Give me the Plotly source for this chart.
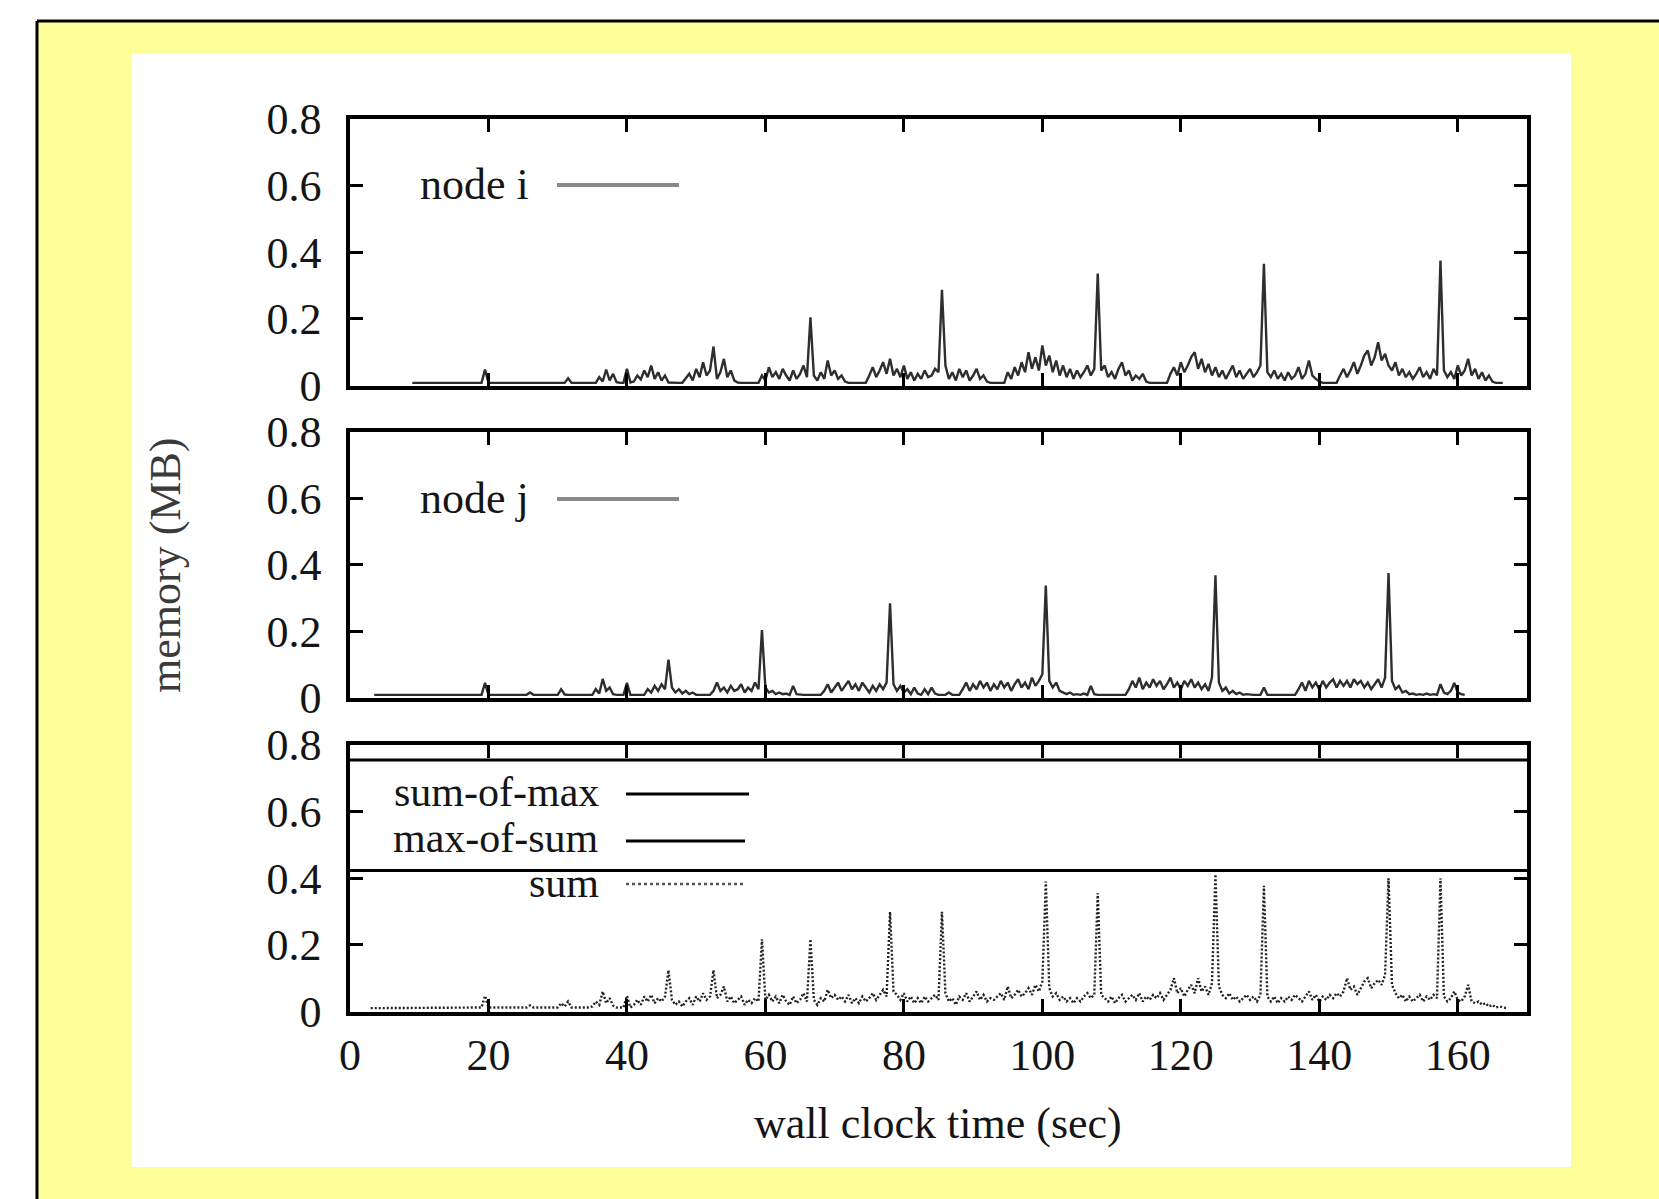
import numpy as np
import plotly.graph_objects as go

# ---------------- data ----------------
step_sec = 0.5

t_start_i = 9.0
mem_node_i = [
    0.008, 0.008, 0.008, 0.008, 0.008, 0.008, 0.008, 0.008, 0.008, 0.008,
    0.008, 0.008, 0.008, 0.008, 0.008, 0.008, 0.008, 0.008, 0.008, 0.008,
    0.008, 0.048, 0.008, 0.008, 0.008, 0.008, 0.008, 0.008, 0.008, 0.008,
    0.008, 0.008, 0.008, 0.008, 0.008, 0.008, 0.008, 0.008, 0.008, 0.008,
    0.008, 0.008, 0.008, 0.008, 0.008, 0.022, 0.008, 0.008, 0.008, 0.008,
    0.008, 0.008, 0.008, 0.008, 0.025, 0.012, 0.048, 0.015, 0.035, 0.010,
    0.008, 0.008, 0.050, 0.009, 0.012, 0.030, 0.018, 0.045, 0.025, 0.060,
    0.020, 0.040, 0.015, 0.030, 0.009, 0.008, 0.008, 0.008, 0.008, 0.020,
    0.035, 0.015, 0.050, 0.025, 0.070, 0.030, 0.045, 0.117, 0.020, 0.040,
    0.080, 0.025, 0.045, 0.015, 0.009, 0.008, 0.008, 0.008, 0.008, 0.008,
    0.008, 0.030, 0.015, 0.055, 0.025, 0.040, 0.020, 0.050, 0.030, 0.015,
    0.045, 0.020, 0.035, 0.060, 0.025, 0.205, 0.030, 0.015, 0.040, 0.020,
    0.075, 0.030, 0.045, 0.020, 0.030, 0.012, 0.008, 0.008, 0.008, 0.008,
    0.008, 0.008, 0.030, 0.055, 0.025, 0.045, 0.070, 0.035, 0.080, 0.030,
    0.050, 0.025, 0.060, 0.020, 0.040, 0.015, 0.035, 0.020, 0.045, 0.025,
    0.030, 0.050, 0.040, 0.287, 0.060, 0.020, 0.040, 0.015, 0.050, 0.025,
    0.045, 0.015, 0.030, 0.050, 0.020, 0.030, 0.012, 0.008, 0.008, 0.008,
    0.008, 0.008, 0.040, 0.020, 0.055, 0.030, 0.070, 0.040, 0.100, 0.050,
    0.085, 0.045, 0.120, 0.060, 0.090, 0.040, 0.075, 0.030, 0.060, 0.025,
    0.050, 0.020, 0.045, 0.025, 0.040, 0.060, 0.030, 0.050, 0.336, 0.045,
    0.060, 0.025, 0.040, 0.020, 0.050, 0.070, 0.030, 0.045, 0.015, 0.030,
    0.020, 0.035, 0.012, 0.008, 0.008, 0.008, 0.008, 0.008, 0.008, 0.035,
    0.055, 0.030, 0.070, 0.040, 0.060, 0.085, 0.100, 0.050, 0.080, 0.040,
    0.065, 0.030, 0.055, 0.025, 0.045, 0.020, 0.040, 0.060, 0.025, 0.045,
    0.020, 0.035, 0.050, 0.025, 0.040, 0.060, 0.365, 0.040, 0.025, 0.045,
    0.020, 0.035, 0.015, 0.040, 0.020, 0.030, 0.055, 0.020, 0.035, 0.075,
    0.030, 0.020, 0.012, 0.008, 0.008, 0.008, 0.008, 0.008, 0.030, 0.050,
    0.025, 0.045, 0.070, 0.035, 0.060, 0.090, 0.105, 0.060, 0.085, 0.130,
    0.075, 0.095, 0.060, 0.045, 0.070, 0.030, 0.050, 0.025, 0.040, 0.020,
    0.035, 0.055, 0.025, 0.040, 0.020, 0.050, 0.030, 0.375, 0.045, 0.025,
    0.040, 0.020, 0.060, 0.030, 0.045, 0.080, 0.030, 0.050, 0.020, 0.040,
    0.015, 0.030, 0.012, 0.008, 0.008, 0.008,
]

t_start_j = 3.5
mem_node_j = [
    0.008, 0.008, 0.008, 0.008, 0.008, 0.008, 0.008, 0.008, 0.008, 0.008,
    0.008, 0.008, 0.008, 0.008, 0.008, 0.008, 0.008, 0.008, 0.008, 0.008,
    0.008, 0.008, 0.008, 0.008, 0.008, 0.008, 0.008, 0.008, 0.008, 0.008,
    0.008, 0.008, 0.044, 0.008, 0.008, 0.008, 0.008, 0.008, 0.008, 0.008,
    0.008, 0.008, 0.008, 0.008, 0.008, 0.015, 0.008, 0.008, 0.008, 0.008,
    0.008, 0.008, 0.008, 0.008, 0.025, 0.009, 0.008, 0.008, 0.008, 0.008,
    0.008, 0.008, 0.008, 0.008, 0.025, 0.012, 0.056, 0.020, 0.030, 0.010,
    0.008, 0.008, 0.008, 0.044, 0.008, 0.008, 0.008, 0.008, 0.008, 0.025,
    0.015, 0.035, 0.020, 0.040, 0.025, 0.114, 0.030, 0.015, 0.025, 0.012,
    0.020, 0.010, 0.015, 0.008, 0.008, 0.008, 0.008, 0.008, 0.020, 0.045,
    0.020, 0.030, 0.015, 0.035, 0.020, 0.025, 0.040, 0.015, 0.030, 0.020,
    0.045, 0.025, 0.203, 0.030, 0.015, 0.020, 0.010, 0.015, 0.010, 0.012,
    0.008, 0.035, 0.010, 0.008, 0.008, 0.008, 0.008, 0.008, 0.008, 0.008,
    0.020, 0.040, 0.015, 0.030, 0.045, 0.020, 0.035, 0.050, 0.025, 0.040,
    0.020, 0.045, 0.030, 0.015, 0.035, 0.020, 0.040, 0.025, 0.045, 0.284,
    0.040, 0.020, 0.035, 0.015, 0.025, 0.010, 0.030, 0.012, 0.008, 0.025,
    0.010, 0.030, 0.012, 0.008, 0.008, 0.008, 0.015, 0.008, 0.008, 0.008,
    0.025, 0.045, 0.020, 0.040, 0.025, 0.050, 0.030, 0.045, 0.020, 0.040,
    0.025, 0.050, 0.030, 0.045, 0.020, 0.040, 0.055, 0.030, 0.045, 0.025,
    0.060, 0.035, 0.050, 0.070, 0.337, 0.050, 0.030, 0.045, 0.020, 0.015,
    0.010, 0.015, 0.008, 0.010, 0.008, 0.012, 0.008, 0.035, 0.010, 0.008,
    0.008, 0.008, 0.008, 0.008, 0.008, 0.008, 0.008, 0.008, 0.025, 0.050,
    0.030, 0.060, 0.025, 0.045, 0.030, 0.055, 0.035, 0.050, 0.025, 0.040,
    0.060, 0.030, 0.045, 0.025, 0.050, 0.035, 0.055, 0.030, 0.045, 0.025,
    0.040, 0.020, 0.060, 0.368, 0.045, 0.020, 0.030, 0.012, 0.020, 0.010,
    0.015, 0.008, 0.010, 0.008, 0.008, 0.008, 0.008, 0.030, 0.008, 0.008,
    0.008, 0.008, 0.008, 0.008, 0.008, 0.008, 0.008, 0.025, 0.045, 0.020,
    0.050, 0.030, 0.045, 0.025, 0.050, 0.030, 0.045, 0.055, 0.030, 0.050,
    0.035, 0.050, 0.030, 0.055, 0.040, 0.050, 0.030, 0.045, 0.025, 0.040,
    0.055, 0.030, 0.060, 0.375, 0.050, 0.025, 0.035, 0.015, 0.020, 0.010,
    0.012, 0.008, 0.010, 0.008, 0.012, 0.008, 0.010, 0.008, 0.040, 0.015,
    0.010, 0.020, 0.044, 0.015, 0.010, 0.008,
]

t_start_sum = 3.0
mem_sum = [
    0.010, 0.010, 0.010, 0.010, 0.010, 0.010, 0.010, 0.010, 0.010, 0.010,
    0.010, 0.010, 0.012, 0.012, 0.012, 0.012, 0.012, 0.012, 0.012, 0.012,
    0.012, 0.012, 0.012, 0.012, 0.012, 0.012, 0.012, 0.012, 0.012, 0.012,
    0.012, 0.012, 0.012, 0.047, 0.012, 0.012, 0.012, 0.012, 0.012, 0.012,
    0.012, 0.012, 0.012, 0.012, 0.012, 0.012, 0.018, 0.012, 0.012, 0.012,
    0.012, 0.012, 0.012, 0.012, 0.012, 0.025, 0.015, 0.030, 0.012, 0.012,
    0.012, 0.012, 0.012, 0.012, 0.015, 0.030, 0.020, 0.060, 0.025, 0.040,
    0.018, 0.012, 0.012, 0.012, 0.047, 0.012, 0.020, 0.035, 0.020, 0.045,
    0.030, 0.050, 0.025, 0.040, 0.030, 0.045, 0.124, 0.035, 0.020, 0.030,
    0.015, 0.030, 0.040, 0.020, 0.045, 0.030, 0.055, 0.035, 0.045, 0.124,
    0.040, 0.050, 0.075, 0.030, 0.045, 0.025, 0.035, 0.045, 0.020, 0.035,
    0.025, 0.040, 0.030, 0.217, 0.035, 0.050, 0.030, 0.045, 0.025, 0.050,
    0.030, 0.020, 0.045, 0.025, 0.035, 0.055, 0.030, 0.217, 0.035, 0.020,
    0.040, 0.030, 0.065, 0.040, 0.050, 0.035, 0.045, 0.030, 0.050, 0.025,
    0.040, 0.025, 0.045, 0.030, 0.040, 0.055, 0.035, 0.050, 0.065, 0.045,
    0.299, 0.060, 0.050, 0.035, 0.055, 0.030, 0.045, 0.025, 0.040, 0.025,
    0.045, 0.030, 0.040, 0.050, 0.035, 0.299, 0.055, 0.030, 0.040, 0.020,
    0.045, 0.035, 0.055, 0.030, 0.045, 0.060, 0.035, 0.050, 0.030, 0.040,
    0.035, 0.045, 0.055, 0.035, 0.075, 0.040, 0.050, 0.065, 0.045, 0.055,
    0.070, 0.050, 0.080, 0.060, 0.090, 0.390, 0.070, 0.045, 0.055, 0.035,
    0.045, 0.030, 0.040, 0.025, 0.040, 0.030, 0.045, 0.055, 0.040, 0.050,
    0.355, 0.050, 0.040, 0.030, 0.045, 0.025, 0.040, 0.050, 0.030, 0.040,
    0.050, 0.035, 0.055, 0.030, 0.045, 0.035, 0.050, 0.040, 0.055, 0.035,
    0.050, 0.065, 0.100, 0.055, 0.070, 0.045, 0.065, 0.080, 0.055, 0.100,
    0.060, 0.075, 0.050, 0.085, 0.412, 0.075, 0.050, 0.040, 0.055, 0.035,
    0.045, 0.030, 0.040, 0.050, 0.035, 0.045, 0.030, 0.050, 0.377, 0.045,
    0.030, 0.045, 0.025, 0.040, 0.030, 0.045, 0.035, 0.050, 0.040, 0.030,
    0.045, 0.060, 0.035, 0.050, 0.030, 0.045, 0.035, 0.050, 0.040, 0.055,
    0.045, 0.060, 0.100, 0.065, 0.075, 0.050, 0.070, 0.090, 0.100, 0.070,
    0.085, 0.095, 0.080, 0.110, 0.400, 0.080, 0.055, 0.040, 0.050, 0.030,
    0.045, 0.030, 0.040, 0.050, 0.030, 0.045, 0.035, 0.050, 0.040, 0.400,
    0.045, 0.030, 0.040, 0.060, 0.035, 0.030, 0.045, 0.080, 0.030, 0.025,
    0.030, 0.020, 0.025, 0.015, 0.020, 0.012, 0.015, 0.012, 0.010,
]

sum_of_max_mb = 0.755
max_of_sum_mb = 0.423

x_range = [0, 170]
x_tick_values = [0, 20, 40, 60, 80, 100, 120, 140, 160]
y_range = [0, 0.8]
y_tick_values = [0, 0.2, 0.4, 0.6, 0.8]
y_tick_labels = ["0", "0.2", "0.4", "0.6", "0.8"]

legend_node_i = "node i"
legend_node_j = "node j"
legend_panel3 = ["sum-of-max", "max-of-sum", "sum"]
x_title = "wall clock time (sec)"
y_title = "memory (MB)"

# ---------------- layout helpers ----------------
W, H = 1659, 1199


def px(x):
    return x / W


def py(y):
    return 1 - y / H


FONT = "Liberation Serif, Times New Roman, serif"
FS = 44
TXT = "#151515"

t_i = t_start_i + step_sec * np.arange(len(mem_node_i))
t_j = t_start_j + step_sec * np.arange(len(mem_node_j))
t_s = t_start_sum + step_sec * np.arange(len(mem_sum))

LINE_C = "#2e2e2e"
fig = go.Figure()
fig.add_trace(go.Scatter(x=t_i, y=mem_node_i, mode="lines",
                         line=dict(color=LINE_C, width=2.4),
                         xaxis="x", yaxis="y", showlegend=False))
fig.add_trace(go.Scatter(x=t_j, y=mem_node_j, mode="lines",
                         line=dict(color=LINE_C, width=2.4),
                         xaxis="x2", yaxis="y2", showlegend=False))
fig.add_trace(go.Scatter(x=x_range, y=[sum_of_max_mb, sum_of_max_mb], mode="lines",
                         line=dict(color="black", width=3),
                         xaxis="x3", yaxis="y3", showlegend=False))
fig.add_trace(go.Scatter(x=x_range, y=[max_of_sum_mb, max_of_sum_mb], mode="lines",
                         line=dict(color="black", width=3),
                         xaxis="x3", yaxis="y3", showlegend=False))
fig.add_trace(go.Scatter(x=t_s, y=mem_sum, mode="lines",
                         line=dict(color="#222222", width=2.4, dash="2px,2px"),
                         xaxis="x3", yaxis="y3", showlegend=False))

x_dom = [px(350), px(1527)]
panels = [(119, 385.5), (432, 697.5), (745, 1011.5)]

axis_common = dict(
    showline=True, linecolor="black", linewidth=3.5, mirror="ticks",
    ticks="inside", ticklen=13, tickwidth=2.5, tickcolor="black",
    showgrid=False, zeroline=False, fixedrange=True, automargin=False,
    tickfont=dict(family=FONT, size=FS, color=TXT),
)

layout = dict(
    width=W, height=H, autosize=False, margin=dict(l=0, r=0, t=0, b=0, pad=0),
    paper_bgcolor="white", plot_bgcolor="rgba(0,0,0,0)",
    showlegend=False,
)
for k, (top, bot) in enumerate(panels, start=1):
    sx = "" if k == 1 else str(k)
    layout["xaxis" + sx] = dict(
        axis_common, domain=x_dom, range=x_range, tickvals=x_tick_values,
        showticklabels=(k == 3), anchor="y" + sx, ticklabelstandoff=2,
    )
    layout["yaxis" + sx] = dict(
        axis_common, domain=[py(bot), py(top)], range=y_range,
        tickvals=y_tick_values, ticktext=y_tick_labels,
        anchor="x" + sx, ticklabelstandoff=16,
    )
fig.update_layout(**layout)

shapes = [
    # yellow frame
    dict(type="rect", xref="paper", yref="paper", x0=px(37), x1=1.0,
         y0=0.0, y1=py(21), fillcolor="#FFFF99", line=dict(width=0), layer="below"),
    dict(type="line", xref="paper", yref="paper", x0=px(37), x1=1.0,
         y0=py(21), y1=py(21), line=dict(color="black", width=3), layer="below"),
    dict(type="line", xref="paper", yref="paper", x0=px(37), x1=px(37),
         y0=py(21), y1=0.0, line=dict(color="black", width=3), layer="below"),
    # white card
    dict(type="rect", xref="paper", yref="paper", x0=px(132), x1=px(1571),
         y0=py(1167), y1=py(53), fillcolor="white", line=dict(width=0), layer="below"),
    # legend samples
    dict(type="line", xref="paper", yref="paper", x0=px(557), x1=px(679),
         y0=py(185), y1=py(185), line=dict(color="#8a8a8a", width=4)),
    dict(type="line", xref="paper", yref="paper", x0=px(557), x1=px(679),
         y0=py(499), y1=py(499), line=dict(color="#8a8a8a", width=4)),
    dict(type="line", xref="paper", yref="paper", x0=px(626), x1=px(749),
         y0=py(794), y1=py(794), line=dict(color="black", width=3)),
    dict(type="line", xref="paper", yref="paper", x0=px(626), x1=px(745),
         y0=py(841), y1=py(841), line=dict(color="black", width=3)),
    dict(type="line", xref="paper", yref="paper", x0=px(626), x1=px(745),
         y0=py(884), y1=py(884), line=dict(color="#555555", width=2.5, dash="3px,3px")),
]

font = dict(family=FONT, size=FS, color=TXT)
font_key = dict(family=FONT, size=42, color=TXT)
annotations = [
    dict(text=legend_node_i, x=px(531), y=py(184), xanchor="right", yanchor="middle"),
    dict(text=legend_node_j, x=px(531), y=py(498), xanchor="right", yanchor="middle"),
    dict(text=legend_panel3[0], x=px(601), y=py(792), xanchor="right", yanchor="middle",
         font=font_key),
    dict(text=legend_panel3[1], x=px(601), y=py(838), xanchor="right", yanchor="middle",
         font=font_key),
    dict(text=legend_panel3[2], x=px(601), y=py(883), xanchor="right", yanchor="middle",
         font=font_key),
    dict(text=x_title, x=px(938), y=py(1123), xanchor="center", yanchor="middle"),
    dict(text=y_title, x=px(165), y=py(566), xanchor="center", yanchor="middle",
         textangle=-90, font=dict(family=FONT, size=FS, color="#3a3a3a")),
]
for a in annotations:
    a.setdefault("font", font)
    a.update(xref="paper", yref="paper", showarrow=False)

fig.update_layout(shapes=shapes, annotations=annotations)

fig.write_html(
    "out.html",
    config={"displayModeBar": False},
    post_script="document.body.style.margin='0';document.body.style.overflow='hidden';",
)
